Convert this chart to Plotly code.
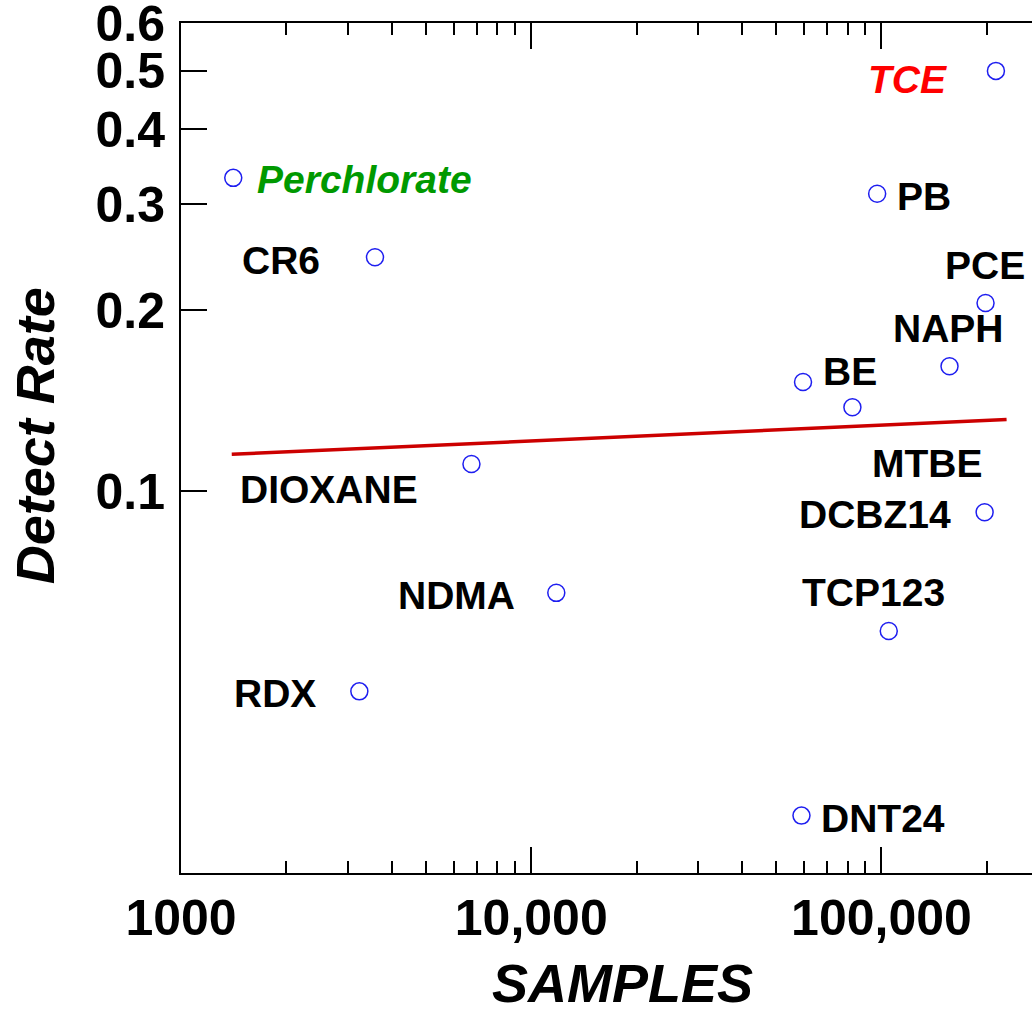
import math
import plotly.graph_objects as go

# ---------------- data ----------------
compounds = ["Perchlorate", "CR6", "DIOXANE", "NDMA", "RDX", "DNT24", "BE",
             "MTBE", "PB", "TCP123", "NAPH", "PCE", "DCBZ14", "TCE"]
samples = [1410, 3580, 6750, 11790, 3230, 59100, 59700,
           82600, 97200, 104900, 156400, 198200, 197000, 212200]
detect_rate = [0.332, 0.245, 0.111, 0.0678, 0.0465, 0.0289, 0.152,
               0.138, 0.3125, 0.0586, 0.1614, 0.2057, 0.0923, 0.500]

trend_samples = [1396, 227600]
trend_rate = [0.1152, 0.1316]

x_tick_vals = [1000, 10000, 100000]
x_tick_text = ["1000", "10,000", "100,000"]
x_minor_vals = [2000, 3000, 4000, 5000, 6000, 7000, 8000, 9000,
                20000, 30000, 40000, 50000, 60000, 70000, 80000, 90000,
                200000]
y_tick_vals = [0.1, 0.2, 0.3, 0.4, 0.5, 0.6]
y_tick_text = ["0.1", "0.2", "0.3", "0.4", "0.5", "0.6"]

x_range = [1000, 269000]
y_range = [0.0232, 0.6006]

# ---------------- styles ----------------
FONT = "Liberation Sans, Arial, Helvetica, sans-serif"
label_style = {  # (dx px, dy px downward, color, italic)
    "Perchlorate": (131, 2, "#009900", True),
    "CR6": (-94, 3, "black", False),
    "DIOXANE": (-142, 25, "black", False),
    "NDMA": (-100, 3, "black", False),
    "RDX": (-84, 2, "black", False),
    "DNT24": (82, 3, "black", False),
    "BE": (47, -10, "black", False),
    "MTBE": (75, 56, "black", False),
    "PB": (47, 3, "black", False),
    "TCP123": (-15, -38, "black", False),
    "NAPH": (-1, -38, "black", False),
    "PCE": (-1, -37, "black", False),
    "DCBZ14": (-110, 2, "black", False),
    "TCE": (-88, 9, "#ff0000", True),
}

fig = go.Figure()
fig.add_trace(go.Scatter(
    x=trend_samples, y=trend_rate, mode="lines",
    line=dict(color="#cc0000", width=3.5), showlegend=False, hoverinfo="skip"))
fig.add_trace(go.Scatter(
    x=samples, y=detect_rate, mode="markers", text=compounds,
    marker=dict(symbol="circle-open", size=17, color="rgb(30,30,240)",
                line=dict(width=1.5, color="rgb(30,30,240)")),
    showlegend=False))

annotations = []
for name, sx, ry in zip(compounds, samples, detect_rate):
    dx, dy, col, ital = label_style[name]
    txt = f"<b>{name}</b>"
    if ital:
        txt = f"<i>{txt}</i>"
    annotations.append(dict(
        x=math.log10(sx), y=math.log10(ry), xref="x", yref="y",
        text=txt, showarrow=False, xanchor="center", yanchor="middle",
        xshift=dx, yshift=-dy,
        font=dict(family=FONT, size=39, color=col)))

annotations.append(dict(
    x=0.519, y=-0.129, xref="paper", yref="paper",
    text="<b><i>SAMPLES</i></b>", showarrow=False,
    xanchor="center", yanchor="middle",
    font=dict(family=FONT, size=54, color="black")))
annotations.append(dict(
    x=-0.1716, y=0.515, xref="paper", yref="paper",
    text="<b><i>Detect Rate</i></b>", showarrow=False, textangle=-90,
    xanchor="center", yanchor="middle",
    font=dict(family=FONT, size=54, color="black")))

fig.update_layout(
    width=1032, height=1009,
    margin=dict(l=181, r=0, t=23, b=136, autoexpand=False),
    paper_bgcolor="white", plot_bgcolor="white",
    font=dict(family=FONT, color="black"),
    annotations=annotations,
    xaxis=dict(
        type="log", range=[math.log10(v) for v in x_range],
        tickmode="array", tickvals=x_tick_vals, ticktext=x_tick_text,
        ticks="inside", ticklen=26, tickwidth=2, tickcolor="black",
        showline=True, linewidth=2, linecolor="black", mirror="ticks",
        showgrid=False, zeroline=False, automargin=False,
        tickfont=dict(family=FONT, size=50, color="black", weight="bold"),
        minor=dict(tickmode="array", tickvals=x_minor_vals, ticks="inside",
                   ticklen=12, tickwidth=2, tickcolor="black", showgrid=False),
    ),
    yaxis=dict(
        type="log", range=[math.log10(v) for v in y_range],
        tickmode="array", tickvals=y_tick_vals, ticktext=y_tick_text,
        ticks="inside", ticklen=26, tickwidth=2, tickcolor="black",
        showline=True, linewidth=2, linecolor="black", mirror=False,
        showgrid=False, zeroline=False, ticklabelstandoff=4,
        ticklabeloverflow="allow", automargin=False,
        tickfont=dict(family=FONT, size=50, color="black", weight="bold"),
    ),
    yaxis2=dict(
        type="log", range=[math.log10(v) for v in y_range],
        overlaying="y", side="right", automargin=False,
        tickmode="array", tickvals=y_tick_vals[:-1],
        ticks="inside", ticklen=10, tickwidth=2, tickcolor="black",
        showticklabels=False, showline=False, showgrid=False, zeroline=False,
    ),
)

# remove the browser's default 8px body margin so the figure fills the window
fig.write_html("out.html",
               config={"displayModeBar": False},
               post_script="document.body.style.margin='0';"
                           "document.body.style.overflow='hidden';")
